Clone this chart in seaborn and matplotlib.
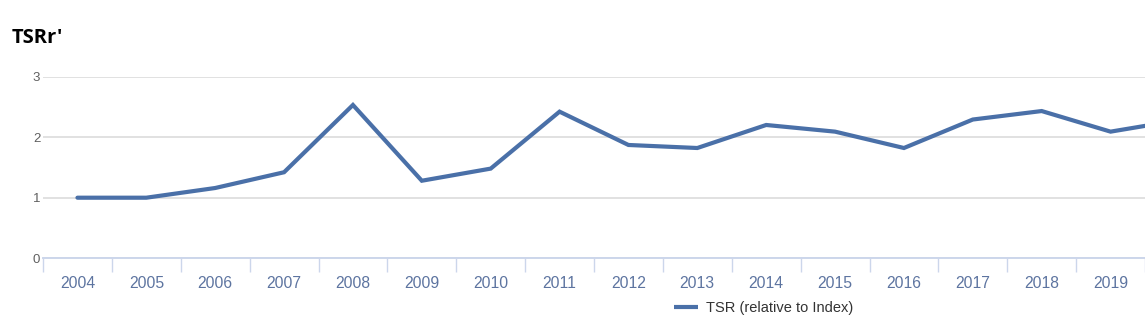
import matplotlib
matplotlib.use("Agg")
import matplotlib.pyplot as plt
from matplotlib.ticker import FixedLocator
import seaborn as sns
import pandas as pd

# ---- data ----
years = [2004, 2005, 2006, 2007, 2008, 2009, 2010, 2011, 2012, 2013,
         2014, 2015, 2016, 2017, 2018, 2019, 2020]
tsr_relative = [1.00, 1.00, 1.16, 1.42, 2.53, 1.28, 1.48, 2.42, 1.87, 1.82,
                2.20, 2.09, 1.82, 2.29, 2.43, 2.09, 2.28]
shown_years = list(range(2004, 2020))
y_ticks = [0, 1, 2, 3]
title_text = "TSRr'"
series_name = "TSR (relative to Index)"

df = pd.DataFrame({"year": years, "value": tsr_relative})

sns.set_style("white")
plt.rcParams["font.family"] = ["Liberation Sans", "DejaVu Sans"]

W, H = 1145, 325
fig = plt.figure(figsize=(W / 100, H / 100), dpi=100)
ax = fig.add_axes([43 / W, 1 - 258.3 / H, 1 - 43 / W, (258.3 - 76.5) / H])

line_color = "#4a70a8"
sns.lineplot(data=df, x="year", y="value", ax=ax, color=line_color,
             linewidth=3.0, label=series_name, legend=False,
             solid_joinstyle="miter", solid_capstyle="round")

ax.set_xlim(shown_years[0] - 0.5, shown_years[-1] + 0.5)
ax.set_ylim(0, 3)
ax.set_xlabel("")
ax.set_ylabel("")

# gridlines
ax.set_yticks(y_ticks)
ax.yaxis.grid(True, color="#d9d9d9", linewidth=1.1)
ax.xaxis.grid(False)
ax.set_axisbelow(True)

# x axis: labels at centres, tick marks at boundaries
ax.set_xticks(shown_years)
ax.set_xticklabels([str(y) for y in shown_years])
ax.xaxis.set_minor_locator(FixedLocator([y - 0.5 for y in shown_years] + [shown_years[-1] + 0.5]))
ax.tick_params(axis="x", which="major", bottom=True, length=0, pad=13,
               labelsize=11.3, labelcolor="#5d74a0")
ax.tick_params(axis="x", which="minor", bottom=True, length=9.8, width=1.0,
               color="#ccd6eb", direction="out")
ax.tick_params(axis="y", which="major", left=False, length=0, pad=2,
               labelsize=9.5, labelcolor="#5f5f5f")

for s in ["top", "right", "left"]:
    ax.spines[s].set_visible(False)
ax.spines["bottom"].set_color("#ccd6eb")
ax.spines["bottom"].set_linewidth(1.4)
ax.spines["bottom"].set_zorder(1.5)

# title
fig.text(12 / W, 1 - 43 / H, title_text, fontsize=14.5, fontweight="bold",
         family=["Open Sans", "DejaVu Sans"], color="#000000", va="baseline", ha="left")

# legend
handles, labels = ax.get_legend_handles_labels()
leg = fig.legend(handles, labels, loc="center left",
                 bbox_to_anchor=(674 / W, 1 - 308 / H), frameon=False,
                 fontsize=10.5, handlelength=1.64, handletextpad=0.55,
                 borderpad=0, borderaxespad=0)
for t in leg.get_texts():
    t.set_color("#333333")
for l in leg.get_lines():
    l.set_linewidth(3.0)
    l.set_solid_capstyle("butt")

fig.savefig("out.png", dpi=100)
